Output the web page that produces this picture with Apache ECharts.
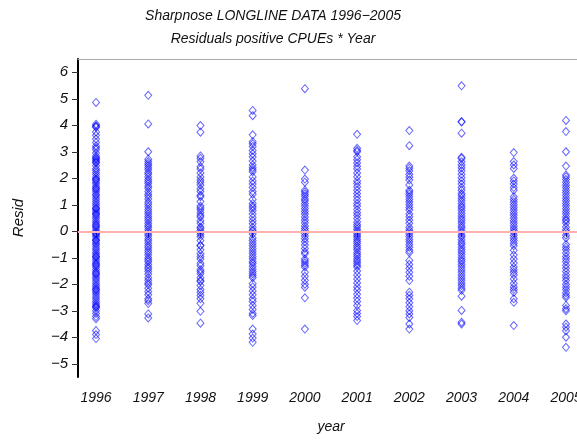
<!DOCTYPE html>
<html>
<head>
<meta charset="utf-8">
<script src="https://cdn.jsdelivr.net/npm/echarts@6/dist/echarts.min.js"></script>
<style>
  html, body { margin: 0; padding: 0; background: #fff; }
  #main { width: 577px; height: 440px; }
</style>
</head>
<body>
<div id="main"></div>
<script>
// tick labels
var yearTicks = [1996, 1997, 1998, 1999, 2000, 2001, 2002, 2003, 2004, 2005];
var residTicks = [-5, -4, -3, -2, -1, 0, 1, 2, 3, 4, 5, 6];

// residuals, one list per year
var y1996 = [4.86, 4.04, 3.98, 3.95, 3.92, 3.75, 3.62, 3.48, 3.35, 3.22, 3.15, 3.08, 2.95, 2.84, 2.78, 2.75, 2.70, 2.65, 2.60, 2.58, 2.47, 2.36, 2.30, 2.22, 2.14, 2.05, 1.98, 1.95, 1.92, 1.85, 1.78, 1.70, 1.63, 1.60, 1.55, 1.48, 1.40, 1.35, 1.27, 1.20, 1.12, 1.05, 0.98, 0.90, 0.85, 0.84, 0.76, 0.70, 0.65, 0.62, 0.55, 0.48, 0.40, 0.33, 0.26, 0.22, 0.18, 0.12, 0.05, -0.02, -0.08, -0.10, -0.15, -0.22, -0.30, -0.35, -0.36, -0.44, -0.50, -0.58, -0.65, -0.72, -0.80, -0.86, -0.94, -0.95, -1.00, -1.08, -1.15, -1.22, -1.25, -1.30, -1.36, -1.44, -1.52, -1.58, -1.60, -1.66, -1.74, -1.80, -1.88, -1.96, -2.04, -2.10, -2.18, -2.20, -2.25, -2.32, -2.40, -2.48, -2.56, -2.64, -2.72, -2.78, -2.84, -2.85, -2.90, -3.00, -3.10, -3.22, -3.30, -3.75, -3.90, -4.05];
var y1997 = [5.13, 4.05, 3.00, 2.72, 2.63, 2.55, 2.48, 2.40, 2.32, 2.22, 2.15, 2.05, 1.95, 1.88, 1.80, 1.70, 1.62, 1.50, 1.40, 1.32, 1.22, 1.10, 1.02, 0.92, 0.82, 0.74, 0.65, 0.56, 0.48, 0.40, 0.30, 0.22, 0.15, 0.06, -0.02, -0.10, -0.18, -0.28, -0.36, -0.45, -0.55, -0.62, -0.72, -0.80, -0.90, -1.00, -1.08, -1.15, -1.25, -1.35, -1.42, -1.52, -1.62, -1.75, -1.85, -1.95, -2.02, -2.15, -2.28, -2.40, -2.55, -2.62, -2.73, -3.12, -3.27];
var y1998 = [3.99, 3.74, 2.84, 2.75, 2.62, 2.43, 2.35, 2.20, 2.05, 1.93, 1.85, 1.75, 1.60, 1.50, 1.36, 1.30, 1.12, 0.95, 0.88, 0.80, 0.70, 0.60, 0.54, 0.40, 0.30, 0.16, 0.10, 0.02, -0.05, -0.12, -0.21, -0.35, -0.53, -0.55, -0.70, -0.85, -0.95, -1.05, -1.21, -1.30, -1.45, -1.52, -1.60, -1.75, -1.86, -1.90, -2.05, -2.20, -2.30, -2.42, -2.55, -2.72, -3.02, -3.47];
var y1999 = [4.56, 4.36, 3.64, 3.38, 3.30, 3.20, 3.05, 2.92, 2.80, 2.65, 2.50, 2.40, 2.32, 2.25, 2.05, 1.90, 1.78, 1.65, 1.50, 1.40, 1.20, 1.05, 0.95, 0.88, 0.78, 0.65, 0.52, 0.40, 0.28, 0.15, 0.05, 0.00, -0.10, -0.25, -0.35, -0.45, -0.55, -0.65, -0.75, -0.85, -0.95, -1.05, -1.15, -1.22, -1.32, -1.42, -1.52, -1.60, -1.68, -1.75, -1.98, -2.10, -2.25, -2.40, -2.55, -2.65, -2.80, -2.95, -3.10, -3.18, -3.69, -3.88, -4.03, -4.19];
var y2000 = [5.38, 2.31, 1.97, 1.85, 1.55, 1.48, 1.40, 1.32, 1.22, 1.15, 1.05, 0.95, 0.85, 0.75, 0.65, 0.54, 0.42, 0.32, 0.20, 0.10, 0.02, -0.08, -0.18, -0.28, -0.40, -0.52, -0.65, -0.78, -0.85, -1.05, -1.12, -1.20, -1.28, -1.35, -1.55, -1.70, -1.85, -2.00, -2.11, -2.51, -3.69];
var y2001 = [3.66, 3.13, 3.05, 3.00, 2.81, 2.70, 2.58, 2.45, 2.35, 2.20, 2.06, 1.90, 1.80, 1.68, 1.55, 1.42, 1.30, 1.18, 1.05, 0.95, 0.82, 0.70, 0.60, 0.48, 0.35, 0.25, 0.17, 0.08, 0.00, -0.08, -0.15, -0.22, -0.30, -0.38, -0.45, -0.55, -0.62, -0.70, -0.80, -0.88, -0.95, -1.05, -1.12, -1.20, -1.28, -1.35, -1.50, -1.65, -1.80, -1.95, -2.10, -2.22, -2.38, -2.52, -2.65, -2.80, -2.99, -3.10, -3.22, -3.37];
var y2002 = [3.80, 3.23, 2.46, 2.38, 2.28, 2.15, 2.05, 1.93, 1.75, 1.55, 1.48, 1.40, 1.30, 1.20, 1.10, 1.00, 0.90, 0.80, 0.65, 0.55, 0.42, 0.30, 0.15, 0.05, -0.02, -0.10, -0.20, -0.30, -0.40, -0.50, -0.60, -0.72, -0.80, -1.10, -1.25, -1.40, -1.55, -1.70, -1.86, -2.30, -2.42, -2.55, -2.70, -2.85, -3.00, -3.12, -3.25, -3.50, -3.69];
var y2003 = [5.49, 4.14, 4.12, 3.70, 2.79, 2.75, 2.62, 2.50, 2.40, 2.28, 2.15, 2.02, 1.90, 1.78, 1.65, 1.55, 1.42, 1.35, 1.25, 1.15, 1.05, 0.95, 0.88, 0.78, 0.68, 0.58, 0.48, 0.40, 0.30, 0.20, 0.12, 0.02, -0.05, -0.15, -0.22, -0.32, -0.42, -0.50, -0.60, -0.70, -0.78, -0.88, -0.98, -1.08, -1.15, -1.25, -1.35, -1.45, -1.55, -1.65, -1.75, -1.85, -1.95, -2.05, -2.15, -2.23, -2.45, -2.99, -3.43, -3.50];
var y2004 = [2.97, 2.63, 2.50, 2.37, 2.00, 1.90, 1.78, 1.65, 1.55, 1.30, 1.20, 1.10, 1.00, 0.90, 0.80, 0.70, 0.60, 0.50, 0.40, 0.30, 0.20, 0.10, 0.02, -0.05, -0.15, -0.25, -0.35, -0.45, -0.55, -0.72, -0.90, -1.05, -1.20, -1.35, -1.45, -1.55, -1.65, -1.80, -1.97, -2.10, -2.20, -2.30, -2.55, -2.68, -3.56];
var y2005 = [4.18, 3.76, 3.00, 2.46, 2.12, 2.05, 1.95, 1.85, 1.75, 1.65, 1.55, 1.45, 1.35, 1.25, 1.15, 1.05, 0.95, 0.85, 0.75, 0.65, 0.55, 0.45, 0.40, 0.30, 0.16, 0.05, -0.02, -0.15, -0.25, -0.50, -0.60, -0.70, -0.82, -0.95, -1.05, -1.15, -1.28, -1.40, -1.52, -1.65, -1.75, -1.86, -2.00, -2.10, -2.20, -2.32, -2.42, -2.50, -2.80, -2.92, -3.00, -3.50, -3.62, -3.75, -4.00, -4.38];

var residByYear = [y1996, y1997, y1998, y1999, y2000, y2001, y2002, y2003, y2004, y2005];

var points = [];
residByYear.forEach(function (list, i) {
  list.forEach(function (v) { points.push([yearTicks[i], v]); });
});

var font = 'Liberation Sans';
var txt = { fontFamily: font, fontStyle: 'italic', fontWeight: 'normal', color: '#111' };

var chart = echarts.init(document.getElementById('main'));
chart.setOption({
  animation: false,
  backgroundColor: '#fff',
  title: [{
    text: 'Sharpnose LONGLINE DATA 1996\u22122005',
    left: 268, top: 4, textAlign: 'center',
    textStyle: Object.assign({ fontSize: 14 }, txt)
  }, {
    text: 'Residuals positive CPUEs * Year',
    left: 268, top: 27, textAlign: 'center',
    textStyle: Object.assign({ fontSize: 14 }, txt)
  }],
  // the frame runs off the right edge of the picture
  grid: { left: 78, top: 59, width: 506, height: 318, show: false, outerBoundsMode: 'none' },
  xAxis: [{
    type: 'value',
    min: 1995.655, max: 2005.345,
    name: 'year', nameLocation: 'middle', nameGap: 43,
    nameTextStyle: Object.assign({ fontSize: 14 }, txt),
    axisLine: { show: true, lineStyle: { color: '#000', width: 2 } },
    axisTick: { show: true, customValues: yearTicks, length: 6, lineStyle: { color: '#333', width: 1 } },
    axisLabel: Object.assign({
      customValues: yearTicks, margin: 14, fontSize: 14,
      formatter: function (v) { return String(v); }
    }, txt),
    splitLine: { show: false }
  }, {
    type: 'value', position: 'top',
    min: 1995.655, max: 2005.345,
    axisLine: { show: true, lineStyle: { color: '#aaa', width: 1 } },
    axisTick: { show: false }, axisLabel: { show: false }, splitLine: { show: false }
  }],
  yAxis: {
    type: 'value',
    min: -5.5, max: 6.5,
    name: 'Resid', nameLocation: 'middle', nameGap: 52, nameRotate: 90,
    nameTextStyle: Object.assign({ fontSize: 15 }, txt),
    axisLine: { show: true, lineStyle: { color: '#000', width: 2 } },
    axisTick: { show: true, customValues: residTicks, length: 6, lineStyle: { color: '#333', width: 1 } },
    axisLabel: Object.assign({
      customValues: residTicks, margin: 10, fontSize: 15,
      formatter: function (v) { return v < 0 ? '\u2212' + Math.abs(v) : String(v); }
    }, txt),
    splitLine: { show: false }
  },
  series: [{
    // reference line at zero, kept under the points
    type: 'scatter',
    data: [],
    z: 1,
    markLine: {
      silent: true,
      symbol: 'none',
      label: { show: false },
      lineStyle: { color: '#ffb0b0', width: 2, type: 'solid' },
      data: [{ yAxis: 0 }]
    }
  }, {
    type: 'scatter',
    data: points,
    symbol: 'diamond',
    symbolSize: [7, 8],
    itemStyle: { color: 'transparent', borderColor: 'rgba(0,0,255,0.75)', borderWidth: 1 },
    z: 3
  }]
});
</script>
</body>
</html>
